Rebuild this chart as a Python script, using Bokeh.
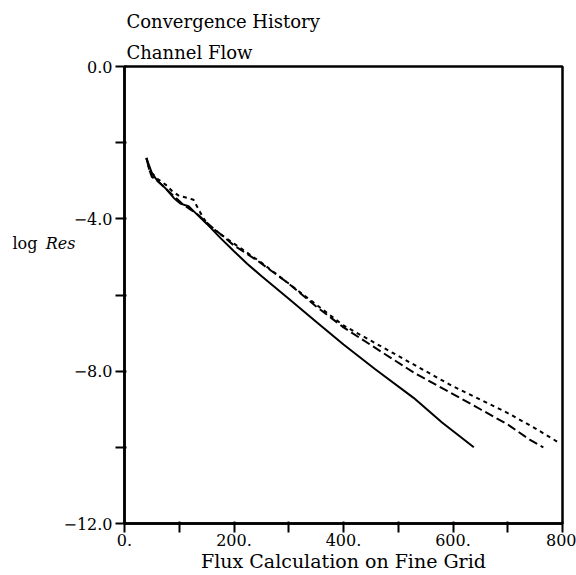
from bokeh.plotting import figure
from bokeh.models import Range1d, FixedTicker, Title, LinearAxis
from bokeh.embed import file_html
from bokeh.resources import INLINE

# ---- data ----
solid_x = [40, 45, 50, 60, 75, 90, 102, 117, 130, 151, 175, 200, 224, 250, 300, 350, 400, 458, 528, 580, 638]
solid_y = [-2.4, -2.6, -2.8, -3.0, -3.2, -3.45, -3.6, -3.67, -3.85, -4.14, -4.5, -4.85, -5.18, -5.5, -6.1, -6.7, -7.3, -7.95, -8.7, -9.35, -10.0]

dash_x = [40, 45, 50, 60, 75, 90, 105, 120, 135, 150, 175, 200, 243, 300, 350, 400, 470, 530, 600, 650, 700, 740, 765]
dash_y = [-2.4, -2.7, -2.9, -3.0, -3.2, -3.4, -3.6, -3.75, -3.9, -4.1, -4.4, -4.7, -5.1, -5.7, -6.3, -6.85, -7.5, -8.05, -8.6, -9.0, -9.4, -9.8, -10.0]

dot_x = [40, 45, 50, 60, 75, 87, 100, 115, 126, 139, 151, 175, 200, 250, 300, 350, 400, 450, 500, 550, 600, 650, 700, 750, 796]
dot_y = [-2.4, -2.7, -2.8, -2.95, -3.1, -3.27, -3.4, -3.45, -3.5, -3.85, -4.14, -4.4, -4.65, -5.15, -5.7, -6.25, -6.8, -7.2, -7.6, -8.0, -8.4, -8.75, -9.1, -9.5, -9.9]

x_ticks = [0, 100, 200, 300, 400, 500, 600, 700, 800]
x_tick_labels = ["0.", "", "200.", "", "400.", "", "600.", "", "800"]
y_ticks = [0, -2, -4, -6, -8, -10, -12]
y_tick_labels = ["0.0", "", "\u22124.0", "", "\u22128.0", "", "\u221212.0"]

title1 = "Convergence History"
title2 = "Channel Flow"
x_label = "Flux Calculation on Fine Grid"
y_label_a = "log"
y_label_b = "Res"
y_label_at = -4.65   # height of the horizontal y label, in data units

FONT = "DejaVu Serif"

p = figure(width=576, height=575, output_backend="svg", toolbar_location=None,
           x_range=Range1d(0, 800), y_range=Range1d(-12, 0),
           min_border_left=124, min_border_right=14, min_border_top=66, min_border_bottom=52)
p.title = None
p.grid.visible = False
p.background_fill_color = "white"
p.border_fill_color = "white"
p.outline_line_color = "black"
p.outline_line_width = 2.5

p.line(solid_x, solid_y, line_color="black", line_width=2)
p.line(dash_x, dash_y, line_color="black", line_width=2, line_dash="9 4")
p.line(dot_x, dot_y, line_color="black", line_width=2, line_dash="4 4")

for ax in (p.xaxis[0], p.yaxis[0]):
    ax.axis_line_width = 2.5
    ax.axis_line_color = "black"
    ax.major_tick_line_width = 2
    ax.major_tick_in = 2
    ax.major_tick_out = 9
    ax.minor_tick_line_color = None
    ax.major_label_text_font = FONT
    ax.major_label_text_font_size = "16px"
    ax.major_label_text_color = "black"
    ax.axis_label_text_font = FONT
    ax.axis_label_text_font_style = "normal"
    ax.axis_label_text_color = "black"

p.xaxis.ticker = FixedTicker(ticks=x_ticks)
p.xaxis.major_label_overrides = dict(zip(x_ticks, x_tick_labels))
p.xaxis.major_label_standoff = 1
p.xaxis.axis_label = x_label
p.xaxis.axis_label_text_font_size = "19px"
p.xaxis.axis_label_standoff = 1

p.yaxis.ticker = FixedTicker(ticks=y_ticks)
p.yaxis.major_label_overrides = dict(zip(y_ticks, y_tick_labels))
p.yaxis.major_label_standoff = 3

# horizontal y label built from two bare axes (no line, no ticks), one per word
def label_axis(text, style, standoff):
    ax = LinearAxis(ticker=FixedTicker(ticks=[y_label_at]),
                    major_label_overrides={y_label_at: text},
                    axis_line_color=None, major_tick_line_color=None,
                    minor_tick_line_color=None, major_tick_in=0, major_tick_out=0,
                    major_label_standoff=standoff,
                    major_label_text_font=FONT, major_label_text_font_size="16px",
                    major_label_text_font_style=style, major_label_text_color="black")
    return ax

p.add_layout(label_axis(y_label_b, "italic", -15), "left")
p.add_layout(label_axis(y_label_a, "normal", 5), "left")

# two title lines above the frame (later-added sits further out)
p.add_layout(Title(text=title2, align="left", offset=2, standoff=7, text_font=FONT,
                   text_font_size="18px", text_font_style="normal", text_color="black"), "above")
p.add_layout(Title(text=title1, align="left", offset=2, standoff=9, text_font=FONT,
                   text_font_size="18px", text_font_style="normal", text_color="black"), "above")

open("out.html", "w").write(file_html(p, INLINE))
